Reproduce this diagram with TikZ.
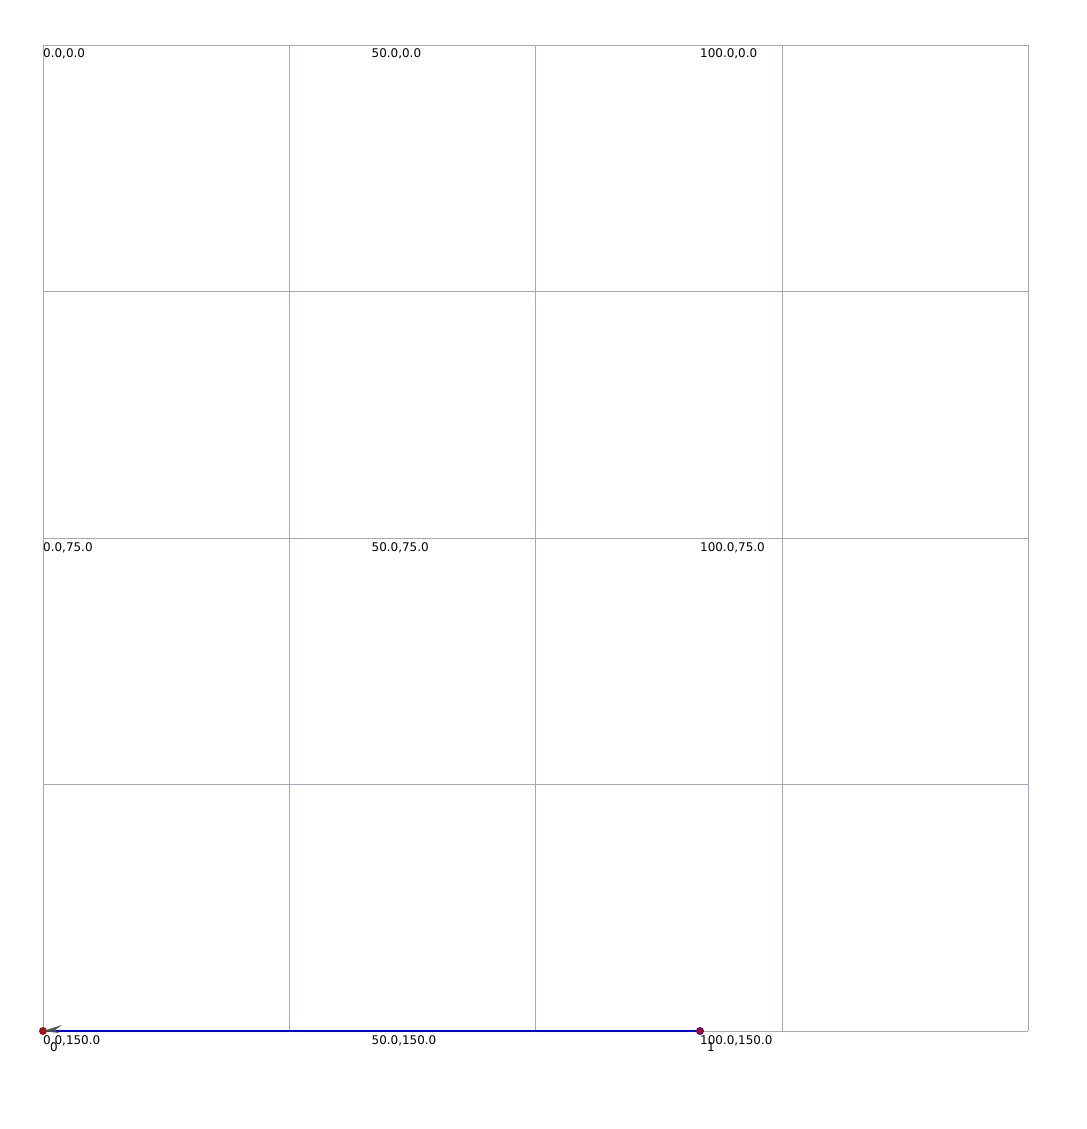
\documentclass[tikz,border=0pt]{standalone}
\usepackage{fontspec}
\setmainfont{DejaVu Sans}
\begin{document}
\begin{tikzpicture}[x=1bp,y=-1bp,
  gridline/.style={draw=gridc,line width=0.8bp},
  coordlabel/.style={anchor=north west,inner sep=0pt,font=\fontsize{12}{14}\selectfont},
  ptlabel/.style={anchor=north west,inner sep=0pt,font=\fontsize{12}{14}\selectfont},
  pt/.style={circle,inner sep=0pt,minimum size=7bp,line width=0.8bp}]
\definecolor{gridc}{RGB}{165,165,200}
\definecolor{linec}{RGB}{0,0,235}
\definecolor{arrowc}{RGB}{80,80,90}
\useasboundingbox (0,0) rectangle (1087,1129);
\fill[white] (0,0) rectangle (1087,1129);
% grid
\foreach \i in {0,...,4}{
  \draw[gridline] ({43+246.3*\i},45) -- ({43+246.3*\i},1031);
  \draw[gridline] (43,{45+246.5*\i}) -- (1028,{45+246.5*\i});
}
% coordinate labels
\foreach \xv/\xp in {0.0/43,50.0/371.5,100.0/700}{
  \foreach \yv/\yp in {0.0/48.5,75.0/542.5,150.0/1035.5}{
    \node[coordlabel] at (\xp,\yp) {\xv,\yv};
  }
}
% points
\node[pt,fill=red!85!black,draw=black!80] (p0) at (43,1031) {};
\node[pt,fill=red!80!black,draw=linec] (p1) at (700,1031) {};
\draw[linec,line width=1.3bp] (p0.east) -- (p1.west);
\fill[arrowc] (p0.center) -- (62,1025) -- (55,1030) -- (59,1033) -- cycle;
\node[ptlabel] (l0) at (50,1042.5) {0};
\node[ptlabel] (l1) at (707,1042.5) {1};
\end{tikzpicture}
\end{document}
